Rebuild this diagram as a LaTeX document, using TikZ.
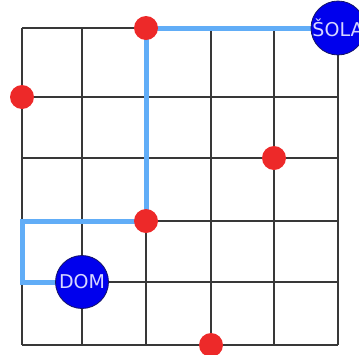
\documentclass[tikz,border=0pt]{standalone}
\usepackage{fontspec}
\setmainfont{DejaVu Sans}
\usetikzlibrary{backgrounds}
\definecolor{mapred}{rgb}{0.93,0.16,0.16}
\definecolor{mapblue}{rgb}{0.00,0.00,0.93}
\definecolor{mapnavy}{rgb}{0.08,0.08,0.40}
\definecolor{maproute}{rgb}{0.38,0.68,0.97}
\definecolor{maplabel}{rgb}{0.84,0.84,1.00}
\definecolor{mapgrid}{rgb}{0.22,0.22,0.22}

\begin{document}
\begin{tikzpicture}[
  x=1pt, y=-1pt,
  gridline/.style={draw=mapgrid, line width=1.1pt},
  stop/.style={circle, fill=mapred, inner sep=0pt, minimum size=24pt},
  place/.style={circle, fill=mapblue, draw=mapnavy, line width=0.8pt,
                inner sep=0pt, minimum size=53pt, text=maplabel,
                font=\fontsize{19}{19}\selectfont},
  route/.style={maproute, line width=5pt}
]
\useasboundingbox (0,0) rectangle (359,354);

% places and stops
\node[place] (sola) at (338,28) {ŠOLA};
\node[place] (dom) at (82,282) {DOM};
\node[stop] (top) at (146,28) {};
\node[stop] (left) at (22,97) {};
\node[stop] (right) at (274,158) {};
\node[stop] (mid) at (146,221) {};
\node[stop] (bottom) at (211,345) {};
\coordinate (bendA) at (22,221);
\coordinate (bendB) at (22,282);

\begin{scope}[on background layer]
  % grid
  \foreach \x in {22,82,146,211,274,338}
    \draw[gridline] (\x,28) -- (\x,345);
  \foreach \y in {28,97,158,221,282,345}
    \draw[gridline] (22,\y) -- (338,\y);
  % route from school to home
  \draw[route] (sola.center) -- (top.center) -- (mid.center)
    -- (bendA) -- (bendB) -- (dom.center);
\end{scope}

\end{tikzpicture}
\end{document}
